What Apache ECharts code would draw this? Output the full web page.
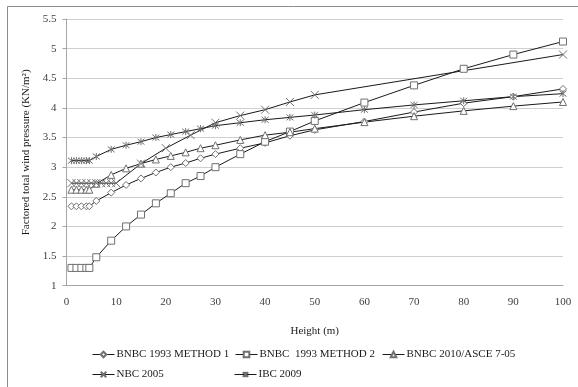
<!DOCTYPE html>
<html>
<head>
<meta charset="utf-8">
<script src="https://cdn.jsdelivr.net/npm/echarts@6/dist/echarts.min.js"></script>
<style>html,body{margin:0;padding:0;background:#fff;}#c{width:578px;height:387px;}</style>
</head>
<body>
<div id="c"></div>
<script>
// Heights (m)
var heights = [1, 2, 3, 4, 4.6, 6, 9, 12, 15, 18, 21, 24, 27, 30, 35, 40, 45, 50, 60, 70, 80, 90, 100];
var bnbc93m1 = [2.34, 2.34, 2.34, 2.34, 2.34, 2.43, 2.57, 2.70, 2.81, 2.91, 3.00, 3.07, 3.15, 3.22, 3.32, 3.41, 3.53, 3.63, 3.77, 3.93, 4.08, 4.19, 4.32];
var bnbc93m2 = [1.30, 1.30, 1.30, 1.30, 1.30, 1.48, 1.76, 2.00, 2.20, 2.39, 2.56, 2.73, 2.85, 3.00, 3.22, 3.43, 3.60, 3.78, 4.09, 4.38, 4.66, 4.90, 5.12];
var bnbc2010 = [2.62, 2.62, 2.62, 2.62, 2.62, 2.72, 2.87, 2.98, 3.06, 3.13, 3.19, 3.25, 3.32, 3.37, 3.46, 3.54, 3.59, 3.65, 3.76, 3.86, 3.95, 4.03, 4.10];
var ibcValues = [3.11, 3.11, 3.11, 3.11, 3.11, 3.18, 3.30, 3.37, 3.43, 3.50, 3.55, 3.60, 3.65, 3.70, 3.75, 3.80, 3.84, 3.88, 3.97, 4.05, 4.12, 4.19, 4.24];
var nbcHeights = [1, 2, 3, 4, 5, 6, 7, 8, 9, 10, 15, 20, 25, 30, 35, 40, 45, 50, 100];
var nbcValues = [2.73, 2.73, 2.73, 2.73, 2.73, 2.73, 2.73, 2.73, 2.73, 2.73, 3.06, 3.32, 3.54, 3.75, 3.87, 3.97, 4.10, 4.22, 4.90];
var xTicks = [0, 10, 20, 30, 40, 50, 60, 70, 80, 90, 100];
var yTicks = [1, 1.5, 2, 2.5, 3, 3.5, 4, 4.5, 5, 5.5];
var names = ['BNBC 1993 METHOD 1', 'BNBC  1993 METHOD 2', 'BNBC 2010/ASCE 7-05', 'NBC 2005', 'IBC 2009'];

function pairs(xs, ys) { return xs.map(function (x, i) { return [x, ys[i]]; }); }

var FONT = 'Liberation Serif';
var XPATH = 'path://M0,0L10,10M10,0L0,10';
var STARPATH = 'path://M0,0L10,10M10,0L0,10M5,-1L5,11';

function mk(name, data, symbol, size) {
  return {
    name: name, type: 'line', data: data, symbol: symbol, symbolSize: size,
    showAllSymbol: true,
    lineStyle: { color: '#1a1a1a', width: 1 },
    itemStyle: { color: '#ffffff', borderColor: '#707070', borderWidth: 1 },
    emphasis: { disabled: true }
  };
}

var chart = echarts.init(document.getElementById('c'), null, { renderer: 'canvas' });
function lg(name, left, top) {
  return {
    data: [name], left: left, top: top, itemWidth: 22, itemHeight: 7, itemGap: 0,
    lineStyle: { width: 1, color: '#1a1a1a' },
    textStyle: { fontFamily: FONT, fontSize: 11, color: '#1a1a1a', padding: [0, 0, 0, -3] },
    selectedMode: false
  };
}
chart.setOption({
  animation: false,
  backgroundColor: '#ffffff',
  graphic: [{ type: 'rect', shape: { x: 7.5, y: 6.5, width: 620, height: 420 }, style: { fill: 'none', stroke: '#8c8c8c', lineWidth: 1 }, silent: true }],
  grid: { left: 66.5, right: 15, top: 19, bottom: 101.3, containLabel: false },
  legend: [
    lg(names[0], 87, 344), lg(names[1], 230, 344), lg(names[2], 377, 344),
    lg(names[3], 87, 364), lg(names[4], 229, 364)
  ],
  xAxis: {
    type: 'value', min: xTicks[0], max: xTicks[xTicks.length - 1], interval: 10,
    name: 'Height (m)', nameLocation: 'middle', nameGap: 40,
    nameTextStyle: { fontFamily: FONT, fontSize: 11, color: '#1a1a1a' },
    axisLine: { show: true, lineStyle: { color: '#a6a6a6' } },
    axisTick: { show: false },
    axisLabel: { fontFamily: FONT, fontSize: 11, color: '#404040', margin: 11 },
    splitLine: { show: false }
  },
  yAxis: {
    type: 'value', min: yTicks[0], max: yTicks[yTicks.length - 1], interval: 0.5,
    name: 'Factored total wind pressure (KN/m\u00B2)', nameLocation: 'middle', nameGap: 33,
    nameTextStyle: { fontFamily: FONT, fontSize: 11, color: '#1a1a1a' },
    axisLine: { show: true, lineStyle: { color: '#a6a6a6' } },
    axisTick: { show: true, length: 4, lineStyle: { color: '#a6a6a6' } },
    axisLabel: { fontFamily: FONT, fontSize: 11, color: '#404040', margin: 10 },
    splitLine: { show: true, lineStyle: { color: '#cfcfcf', width: 1 } }
  },
  series: [
    mk(names[0], pairs(heights, bnbc93m1), 'diamond', 7),
    mk(names[1], pairs(heights, bnbc93m2), 'rect', 7),
    mk(names[2], pairs(heights, bnbc2010), 'triangle', 7),
    mk(names[3], pairs(nbcHeights, nbcValues), XPATH, 8),
    mk(names[4], pairs(heights, ibcValues), STARPATH, 7)
  ]
});
</script>
</body>
</html>
